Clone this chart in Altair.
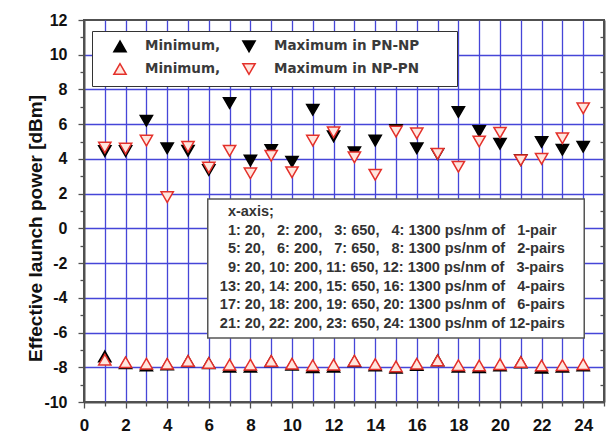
import altair as alt
import pandas as pd

# ---------------- data ----------------
x_idx = list(range(1, 25))
min_pn_np = [-7.37, -7.77, -7.90, -7.84, -7.65, -7.77, -7.96, -7.96, -7.65, -7.85, -8.00, -7.96,
             -7.65, -7.90, -8.03, -7.87, -7.60, -7.97, -8.00, -7.90, -7.72, -8.02, -7.97, -7.90]
max_pn_np = [4.45, 4.45, 6.20, 4.61, 4.47, 3.36, 7.22, 3.90, 4.51, 3.84, 6.83, 5.30,
             4.38, 5.05, 5.66, 4.61, 4.28, 6.70, 5.60, 4.87, 3.94, 4.97, 4.53, 4.70]
min_np_pn = [-7.56, -7.71, -7.79, -7.80, -7.63, -7.75, -7.85, -7.85, -7.63, -7.80, -7.88, -7.85,
             -7.62, -7.82, -7.95, -7.80, -7.60, -7.88, -7.90, -7.82, -7.70, -7.90, -7.88, -7.82]
max_np_pn = [4.65, 4.59, 5.05, 1.80, 4.70, 3.50, 4.47, 3.17, 4.18, 3.23, 5.05, 5.53,
             4.09, 3.09, 5.57, 5.47, 4.30, 3.55, 5.00, 5.51, 3.92, 4.00, 5.19, 6.91]

series_keys = ["minPN", "maxPN", "minNP", "maxNP"]
series_names = ["Minimum,", "Maximum in PN-NP", "Minimum,", "Maximum in NP-PN"]

note_lines = [
    "  x-axis;",
    "  1: 20,   2: 200,   3: 650,   4: 1300 ps/nm of   1-pair",
    "  5: 20,   6: 200,   7: 650,   8: 1300 ps/nm of   2-pairs",
    "  9: 20, 10: 200, 11: 650, 12: 1300 ps/nm of   3-pairs",
    "13: 20, 14: 200, 15: 650, 16: 1300 ps/nm of   4-pairs",
    "17: 20, 18: 200, 19: 650, 20: 1300 ps/nm of   6-pairs",
    "21: 20, 22: 200, 23: 650, 24: 1300 ps/nm of 12-pairs",
]

x_ticks = list(range(0, 26))
y_ticks = list(range(-10, 13))
y_minor = list(range(-9, 12, 2))

# ---------------- styles / layout ----------------
SHAPES = ["triangle-up", "triangle-down", "triangle-up", "triangle-down"]
FILLS = ["#000000", "#000000", "#ffe6de", "#ffe6de"]
STROKES = ["#000000", "#000000", "#e4302a", "#e4302a"]
SIZES = [150, 150, 80, 80]
GRID = "#4646d8"
FRAME = "#505050"
FONT = "Liberation Sans"
W, H = 520, 382

BOX_X0, BOX_X1, BOX_Y0, BOX_Y1 = 5.95, 24.05, 1.69, -6.32
NOTE_X, NOTE_Y0, NOTE_DY = 6.53, 0.95, 1.075

# ---------------- tables ----------------
rows = []
for key, vals in zip(series_keys, [min_pn_np, max_pn_np, min_np_pn, max_np_pn]):
    for xi, v in zip(x_idx, vals):
        rows.append({"x": xi, "y": v, "series": key})
pts = pd.DataFrame(rows)

# zero-width space keeps the leading (non-breaking) spaces from being trimmed
notes = pd.DataFrame({
    "t": ["\u200b" + s.replace(" ", "\u00a0") for s in note_lines],
    "ny": [NOTE_Y0 - i * NOTE_DY for i in range(len(note_lines))],
})

label_expr = ""
for k, n in zip(series_keys[:-1], series_names[:-1]):
    label_expr += f"datum.value === '{k}' ? '{n}' : "
label_expr += f"'{series_names[-1]}'"

legend = alt.Legend(
    orient="none", legendX=8, legendY=11, columns=2, direction="horizontal",
    title="\u00a0", titleOrient="right", titleFontSize=1, titlePadding=30,
    padding=8, strokeColor="#333333", fillColor="white",
    columnPadding=8, rowPadding=5, symbolOffset=13, labelOffset=18,
    labelFont="DejaVu Sans", labelFontWeight="bold", labelFontSize=13.5,
    labelColor="#3a3a3a", symbolStrokeWidth=1.5, labelExpr=label_expr, labelLimit=300,
)

x_scale = alt.Scale(domain=[0, 25], nice=False, zero=False)
y_scale = alt.Scale(domain=[-10, 12], nice=False, zero=False)

x_axis = alt.Axis(
    values=x_ticks,
    labelExpr="datum.value % 2 === 0 && datum.value < 25 ? '' + datum.value : ''",
    grid=True, gridColor=GRID, gridWidth=1.3,
    gridOpacity={"condition": {"test": "datum.value <= 0 || datum.value >= 25", "value": 0}, "value": 1},
    tickSize={"condition": {"test": "datum.value % 2 !== 0", "value": 4}, "value": 6},
    tickColor=FRAME, tickWidth=1.3,
    domain=True, domainColor=FRAME, domainWidth=2,
    labelFont=FONT, labelFontWeight="bold", labelFontSize=17, labelColor="#111111",
    labelPadding=9, labelFlush=False, labelOverlap=False, title=None,
)

y_axis = alt.Axis(
    orient="left", values=y_ticks,
    labelExpr="datum.value % 2 === 0 ? '' + datum.value : ''",
    grid=True, gridColor=GRID, gridWidth=1.3,
    gridOpacity={"condition": {"test": "datum.value % 2 !== 0 || datum.value <= -10 || datum.value >= 12", "value": 0}, "value": 1},
    tickSize={"condition": {"test": "datum.value % 2 !== 0", "value": 4}, "value": 6},
    tickColor=FRAME, tickWidth=1.3,
    domain=True, domainColor=FRAME, domainWidth=2,
    labelFont=FONT, labelFontWeight="bold", labelFontSize=16, labelColor="#111111",
    labelPadding=11, labelOverlap=False, labelFlush=False,
    title="Effective launch power [dBm]", titleFont=FONT, titleFontWeight="bold",
    titleFontSize=19, titleColor="#111111", titleAngle=270, titleX=-43, titleY=208,
    titleAlign="center", titleBaseline="alphabetic",
)

y_axis_right = alt.Axis(
    orient="left", offset=-W, values=y_minor, labels=False, grid=False,
    domain=True, domainColor=FRAME, domainWidth=2,
    tickSize=4, tickColor=FRAME, tickWidth=1.3, title=None,
)

box = alt.Chart(pd.DataFrame({"k": [0]})).mark_rect(
    fill="white", stroke="#555555", strokeWidth=1.5
).encode(
    x=alt.XDatum(BOX_X0, axis=x_axis, scale=x_scale),
    x2=alt.X2Datum(BOX_X1),
    y=alt.YDatum(BOX_Y0, axis=y_axis_right, scale=y_scale),
    y2=alt.Y2Datum(BOX_Y1),
)

text = alt.Chart(notes).mark_text(
    align="left", baseline="middle", font=FONT, fontWeight="bold", fontSize=14.5, color="#333333"
).encode(
    x=alt.XDatum(NOTE_X, axis=x_axis, scale=x_scale),
    y=alt.Y("ny:Q", axis=None, scale=y_scale),
    text="t:N",
)

points = alt.Chart(pts).mark_point(filled=True, opacity=1, strokeWidth=1.5).encode(
    x=alt.X("x:Q", scale=x_scale, axis=x_axis),
    y=alt.Y("y:Q", scale=y_scale, axis=y_axis),
    shape=alt.Shape("series:N", scale=alt.Scale(domain=series_keys, range=SHAPES), legend=legend),
    fill=alt.Fill("series:N", scale=alt.Scale(domain=series_keys, range=FILLS), legend=legend),
    stroke=alt.Stroke("series:N", scale=alt.Scale(domain=series_keys, range=STROKES), legend=legend),
    size=alt.Size("series:N", scale=alt.Scale(domain=series_keys, range=SIZES), legend=legend),
)

chart = alt.layer(box, text, points).resolve_axis(y="independent").properties(
    width=W, height=H,
    padding={"left": 84, "top": 20, "right": 4, "bottom": 40},
    autosize=alt.AutoSizeParams(type="none"),
    background="white",
).configure_view(stroke=FRAME, strokeWidth=2)

chart.save("out.html", embed_options={"renderer": "svg", "actions": False})
